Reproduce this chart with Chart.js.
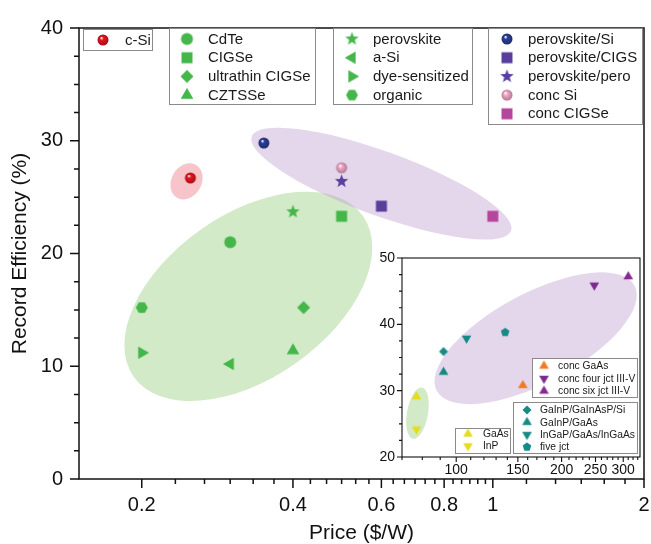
<!DOCTYPE html>
<html>
<head>
<meta charset="utf-8">
<script src="https://cdn.jsdelivr.net/npm/chart.js@4.4.1/dist/chart.umd.min.js"></script>
<style>
  html, body { margin: 0; padding: 0; background: #fff; overflow: hidden; }
  #wrap { position: relative; width: 651px; height: 544px; }
  #main { position: absolute; left: 0; top: 0; }
  #inset { position: absolute; left: 360px; top: 240px; }
</style>
</head>
<body>
<div id="wrap">
  <canvas id="main" width="651" height="544"></canvas>
  <canvas id="inset" width="290" height="238"></canvas>
</div>
<script>
// ---- data ----
const mainNames = ["c-Si", "CdTe", "CIGSe", "ultrathin CIGSe", "CZTSSe",
  "perovskite", "a-Si", "dye-sensitized", "organic",
  "perovskite/Si", "perovskite/CIGS", "perovskite/pero", "conc Si", "conc CIGSe"];
const mainPrice = [0.25, 0.3, 0.5, 0.42, 0.4, 0.4, 0.3, 0.2, 0.2, 0.35, 0.6, 0.5, 0.5, 1.0];
const mainEfficiency = [26.7, 21.0, 23.3, 15.2, 11.4, 23.7, 10.2, 11.2, 15.2, 29.8, 24.2, 26.4, 27.6, 23.3];

const insetNames = ["conc GaAs", "conc four jct III-V", "conc six jct III-V",
  "GaInP/GaInAsP/Si", "GaInP/GaAs", "InGaP/GaAs/InGaAs", "five jct", "GaAs", "InP"];
const insetPrice = [155, 248, 310, 92, 92, 107, 138, 77, 77];
const insetEfficiency = [30.8, 45.9, 47.2, 35.9, 32.8, 37.9, 38.8, 29.1, 24.2];

const mainXTicks = [0.2, 0.4, 0.6, 0.8, 1, 2];
const mainYTicks = [0, 10, 20, 30, 40];
const insetXTicks = [100, 150, 200, 250, 300];
const insetYTicks = [20, 30, 40, 50];

// ---- styling ----
const FONT = '"Liberation Sans", Arial, Helvetica, sans-serif';
const GREEN = "#45b649";

const mainMarkers = [
  ["ball", "#e8141c", 11], ["circle", GREEN, 12], ["square", GREEN, 11], ["diamond", GREEN, 13],
  ["triUp", GREEN, 13], ["star", GREEN, 14], ["triLeft", GREEN, 13], ["triRight", GREEN, 13],
  ["hexagon", GREEN, 12], ["ball", "#2a3f98", 11], ["square", "#5a3e9c", 11],
  ["star", "#5a3fa3", 14], ["ball", "#f4a8c8", 11], ["square", "#b5469c", 11]
];
const insetMarkers = [
  ["triUp", "#f07a26", 10], ["triDown", "#7b2a8e", 10], ["triUp", "#862a92", 10],
  ["diamond", "#168a85", 9], ["triUp", "#168a85", 10], ["triDown", "#168a85", 10],
  ["pentagon", "#168a85", 9], ["triUp", "#e4dc1c", 10], ["triDown", "#e4dc1c", 10]
];

// highlighted areas: centre in data units, radii in px
const mainAreas = [
  { x: 0.2456, y: 26.4, a: 19, b: 15, rot: -60, color: "rgba(235,110,120,0.4)" },
  { x: 0.326, y: 16.2, a: 140, b: 82, rot: -35, color: "rgba(155,208,130,0.45)" },
  { x: 0.6, y: 26.2, a: 138, b: 32, rot: 20, color: "rgba(190,155,205,0.4)" }
];
const insetAreas = [
  { x: 168.6, y: 37.9, a: 112, b: 45, rot: -28, color: "rgba(190,155,205,0.4)" },
  { x: 77.5, y: 26.6, a: 26, b: 10.5, rot: -80, color: "rgba(155,208,130,0.45)" }
];

function shade(hex, f) {
  const n = parseInt(hex.slice(1), 16);
  const r = Math.round(((n >> 16) & 255) * f), g = Math.round(((n >> 8) & 255) * f), b = Math.round((n & 255) * f);
  return `rgb(${r},${g},${b})`;
}

function makeMarker([shape, color, size]) {
  const s = Math.ceil(size) + 3;
  const c = document.createElement("canvas");
  c.width = c.height = s;
  const g = c.getContext("2d");
  const m = s / 2, r = size / 2, deg = Math.PI / 180;
  const poly = (n, rad, start) => {
    g.beginPath();
    for (let i = 0; i < n; i++) {
      const t = start + i * 2 * Math.PI / n;
      g.lineTo(m + rad * Math.cos(t), m + rad * Math.sin(t));
    }
    g.closePath();
  };
  g.fillStyle = color;
  switch (shape) {
    case "ball": {
      const grad = g.createRadialGradient(m - r * 0.3, m - r * 0.4, r * 0.05, m, m, r);
      grad.addColorStop(0, "#ffffff");
      grad.addColorStop(0.3, color);
      grad.addColorStop(1, shade(color, 0.72));
      g.fillStyle = grad;
      g.beginPath(); g.arc(m, m, r, 0, 2 * Math.PI);
      break;
    }
    case "circle": g.beginPath(); g.arc(m, m, r, 0, 2 * Math.PI); break;
    case "square": g.beginPath(); g.rect(m - r, m - r, size, size); break;
    case "diamond": poly(4, r, -90 * deg); break;
    case "triUp": poly(3, r * 1.12, -90 * deg); break;
    case "triDown": poly(3, r * 1.12, 90 * deg); break;
    case "triLeft": poly(3, r * 1.12, 180 * deg); break;
    case "triRight": poly(3, r * 1.12, 0); break;
    case "hexagon": poly(6, r, 0); break;
    case "pentagon": poly(5, r, -90 * deg); break;
    case "star":
      g.beginPath();
      for (let i = 0; i < 10; i++) {
        const t = -90 * deg + i * 36 * deg;
        const rr = i % 2 ? r * 0.42 : r;
        g.lineTo(m + rr * Math.cos(t), m + rr * Math.sin(t));
      }
      g.closePath();
      break;
  }
  g.fill();
  return c;
}

function areasPlugin(areas) {
  return {
    id: "areas",
    beforeDatasetsDraw(chart) {
      const { ctx, chartArea: a, scales: { x, y } } = chart;
      ctx.save();
      ctx.beginPath();
      ctx.rect(a.left, a.top, a.right - a.left, a.bottom - a.top);
      ctx.clip();
      for (const e of areas) {
        ctx.beginPath();
        ctx.ellipse(x.getPixelForValue(e.x), y.getPixelForValue(e.y), e.a, e.b, e.rot * Math.PI / 180, 0, 2 * Math.PI);
        ctx.fillStyle = e.color;
        ctx.fill();
      }
      ctx.restore();
    }
  };
}

// box frame plus outward major / minor ticks
function framePlugin(o) {
  return {
    id: "frame",
    afterDatasetsDraw(chart) {
      const { ctx, chartArea: a, scales: { x, y } } = chart;
      ctx.save();
      ctx.strokeStyle = "#111";
      ctx.lineWidth = o.lineWidth;
      ctx.strokeRect(a.left, a.top, a.right - a.left, a.bottom - a.top);
      ctx.beginPath();
      const tx = (v, len) => { const p = x.getPixelForValue(v); ctx.moveTo(p, a.bottom); ctx.lineTo(p, a.bottom + len); };
      const ty = (v, len) => { const p = y.getPixelForValue(v); ctx.moveTo(a.left, p); ctx.lineTo(a.left - len, p); };
      x.ticks.forEach(t => tx(t.value, o.major));
      o.xMinor.forEach(v => tx(v, o.minor));
      y.ticks.forEach(t => ty(t.value, o.major));
      o.yMinor.forEach(v => ty(v, o.minor));
      ctx.stroke();
      ctx.restore();
    }
  };
}

function legendPlugin(boxes, fontSize) {
  return {
    id: "boxLegend",
    afterDraw(chart) {
      const ctx = chart.ctx;
      const sets = chart.data.datasets;
      ctx.save();
      for (const b of boxes) {
        ctx.fillStyle = "#fff";
        ctx.fillRect(b.x, b.y, b.w, b.h);
        ctx.strokeStyle = "#8a8a8a";
        ctx.lineWidth = 1;
        ctx.strokeRect(b.x + 0.5, b.y + 0.5, b.w, b.h);
        b.items.forEach((idx, k) => {
          const cy = b.y + b.first + k * b.row;
          const img = sets[idx].pointStyle;
          ctx.drawImage(img, b.x + b.mx - img.width / 2, cy - img.height / 2);
          ctx.fillStyle = "#1a1a1a";
          ctx.font = `${fontSize}px ${FONT}`;
          ctx.textBaseline = "middle";
          ctx.textAlign = "left";
          ctx.fillText(sets[idx].label, b.x + b.tx, cy + 0.5);
        });
      }
      ctx.restore();
    }
  };
}

const mainXMinor = [];
for (let k = 7; k < 30; k++) if (k % 6 !== 0) mainXMinor.push(k / 30);
for (let k = 7; k < 12; k++) mainXMinor.push(k / 6);
const mainYMinor = [2.5, 5, 7.5, 12.5, 15, 17.5, 22.5, 25, 27.5, 32.5, 35, 37.5];
const insetXMinor = [70, 80, 90, 110, 120, 130, 140, 160, 170, 180, 190, 210, 220, 230, 240, 260, 270, 280, 290, 310, 320, 330];
const insetYMinor = [22.5, 25, 27.5, 32.5, 35, 37.5, 42.5, 45, 47.5];

function datasets(names, xs, ys, markers) {
  return names.map((name, i) => ({
    label: name,
    data: [{ x: xs[i], y: ys[i] }],
    pointStyle: makeMarker(markers[i]),
    pointRadius: 6
  }));
}

function axis(type, min, max, tickVals, o) {
  return {
    type, min, max,
    grid: { display: false, drawTicks: false },
    border: { display: false },
    afterBuildTicks: s => { s.ticks = tickVals.map(v => ({ value: v })); },
    afterFit: s => {
      if (o.height) { s.height = o.height; s.paddingLeft = 0; s.paddingRight = 0; }
      if (o.width) s.width = o.width;
    },
    ticks: { autoSkip: false, maxRotation: 0, padding: o.pad, color: "#111",
      font: { family: FONT, size: o.size }, callback: v => String(v) },
    title: o.title ? { display: true, text: o.title, color: "#111",
      font: { family: FONT, size: 21, lineHeight: o.titleLH }, padding: { top: o.titlePad, bottom: 0 } } : { display: false }
  };
}

new Chart(document.getElementById("main"), {
  type: "scatter",
  data: { datasets: datasets(mainNames, mainPrice, mainEfficiency, mainMarkers) },
  options: {
    responsive: false, animation: false, events: [],
    layout: { padding: { top: 23, right: 4, left: 0, bottom: 0 } },
    plugins: { legend: { display: false }, tooltip: { enabled: false } },
    scales: {
      x: axis("logarithmic", 0.15, 2, mainXTicks, { height: 65, pad: 14, size: 20, title: "Price ($/W)", titleLH: 1, titlePad: 0 }),
      y: axis("linear", 0, 40, mainYTicks, { width: 79, pad: 16, size: 20, title: "Record Efficiency (%)", titleLH: 1.2, titlePad: 8 })
    }
  },
  plugins: [
    areasPlugin(mainAreas),
    framePlugin({ lineWidth: 1.5, major: 9, minor: 5, xMinor: mainXMinor, yMinor: mainYMinor }),
    legendPlugin([
      { x: 83, y: 29, w: 69, h: 21, items: [0], mx: 20, tx: 42, first: 11, row: 18.7 },
      { x: 169, y: 28, w: 146, h: 76, items: [1, 2, 3, 4], mx: 18, tx: 39, first: 11, row: 18.7 },
      { x: 333, y: 28, w: 139, h: 76, items: [5, 6, 7, 8], mx: 19, tx: 40, first: 11, row: 18.7 },
      { x: 488, y: 28, w: 154, h: 96, items: [9, 10, 11, 12, 13], mx: 19, tx: 40, first: 11, row: 18.7 }
    ], 15)
  ]
});

new Chart(document.getElementById("inset"), {
  type: "scatter",
  data: { datasets: datasets(insetNames, insetPrice, insetEfficiency, insetMarkers) },
  options: {
    responsive: false, animation: false, events: [],
    layout: { padding: { top: 18, right: 10, left: 0, bottom: 0 } },
    plugins: { legend: { display: false }, tooltip: { enabled: false } },
    scales: {
      x: axis("logarithmic", 70, 335, insetXTicks, { height: 21, pad: 5, size: 14 }),
      y: axis("linear", 20, 50, insetYTicks, { width: 42, pad: 7, size: 14 })
    }
  },
  plugins: [
    areasPlugin(insetAreas),
    framePlugin({ lineWidth: 1.1, major: 5, minor: 3, xMinor: insetXMinor, yMinor: insetYMinor }),
    legendPlugin([
      { x: 172, y: 118, w: 105, h: 39, items: [0, 1, 2], mx: 12, tx: 26, first: 8, row: 12.5 },
      { x: 153, y: 162, w: 124, h: 51, items: [3, 4, 5, 6], mx: 14, tx: 27, first: 8, row: 12.3 },
      { x: 95, y: 188, w: 55, h: 25, items: [7, 8], mx: 13, tx: 28, first: 6, row: 12 }
    ], 10.3)
  ]
});
</script>
</body>
</html>
